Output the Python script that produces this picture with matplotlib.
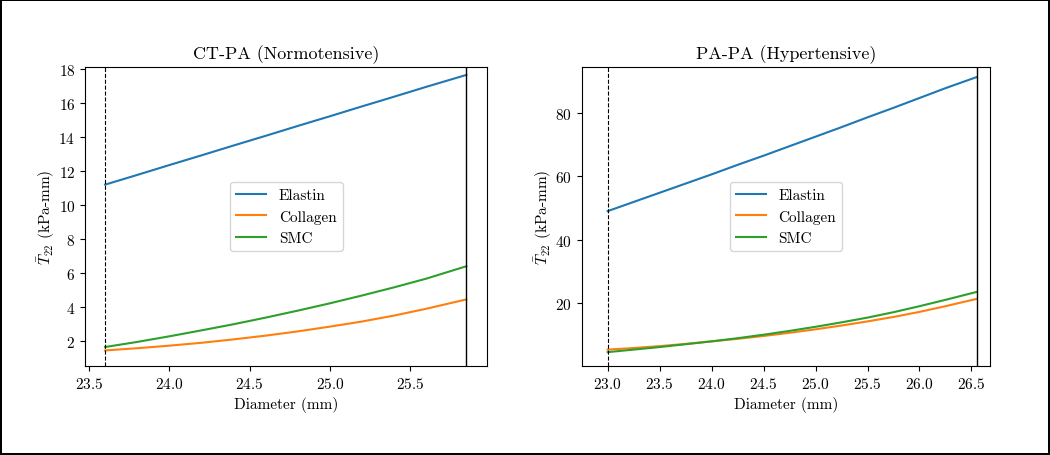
import numpy as np
import matplotlib
matplotlib.use("Agg")
import matplotlib.pyplot as plt

plt.rcParams['font.family'] = ['cmr10', 'DejaVu Serif']
plt.rcParams['mathtext.fontset'] = 'cm'
plt.rcParams['axes.formatter.use_mathtext'] = True

# CT-PA (normotensive)
d_norm = [23.6, 23.8, 24.0, 24.2, 24.4, 24.6, 24.8, 25.0, 25.2, 25.4, 25.6, 25.85]
elastin_norm = [11.2, 11.77, 12.35, 12.92, 13.5, 14.07, 14.65, 15.22, 15.8, 16.37, 16.95, 17.65]
collagen_norm = [1.45, 1.58, 1.73, 1.9, 2.1, 2.32, 2.57, 2.85, 3.15, 3.5, 3.9, 4.45]
smc_norm = [1.65, 1.95, 2.28, 2.63, 2.99, 3.38, 3.79, 4.22, 4.68, 5.16, 5.67, 6.4]

# PA-PA (hypertensive)
d_hyp = [23.0, 23.25, 23.5, 23.75, 24.0, 24.25, 24.5, 24.75, 25.0, 25.25,
         25.5, 25.75, 26.0, 26.25, 26.55]
elastin_hyp = [49.0, 51.9, 54.8, 57.7, 60.6, 63.6, 66.5, 69.5, 72.5, 75.5,
               78.6, 81.6, 84.7, 87.8, 91.3]
collagen_hyp = [5.3, 5.8, 6.4, 7.1, 7.9, 8.7, 9.6, 10.6, 11.7, 12.9,
                14.2, 15.6, 17.2, 19.0, 21.3]
smc_hyp = [4.5, 5.3, 6.1, 7.0, 7.9, 8.9, 10.0, 11.2, 12.5, 13.9,
           15.4, 17.1, 19.0, 21.0, 23.5]

panels = [
    ("CT-PA (Normotensive)", d_norm, elastin_norm, collagen_norm, smc_norm,
     (23.475, 25.98), (0.53, 18.12)),
    ("PA-PA (Hypertensive)", d_hyp, elastin_hyp, collagen_hyp, smc_hyp,
     (22.75, 26.68), (0.1, 94.5)),
]

fig = plt.figure(figsize=(10.5, 4.56), dpi=100)
fig.patch.set_edgecolor('black')
fig.patch.set_linewidth(1.5)

positions = [[0.081, 0.195, 0.383, 0.656], [0.554, 0.195, 0.389, 0.656]]

for pos, (title, d, el, co, sm, xl, yl) in zip(positions, panels):
    ax = fig.add_axes(pos)
    ax.plot(d, el, color='#1f77b4', lw=1.5, label='Elastin')
    ax.plot(d, co, color='#ff7f0e', lw=1.5, label='Collagen')
    ax.plot(d, sm, color='#2ca02c', lw=1.5, label='SMC')
    ax.axvline(d[0], color='black', ls='--', lw=0.8)
    ax.axvline(d[-1], color='black', lw=1.0)
    ax.set_xlim(*xl)
    ax.set_ylim(*yl)
    ax.set_title(title, fontsize=13)
    ax.set_xlabel('Diameter (mm)', fontsize=11)
    ax.set_ylabel(r'$\bar{T}_{22}$ (kPa-mm)', fontsize=11, labelpad=1)
    ax.tick_params(labelsize=11)
    ax.legend(loc='center', fontsize=11)

fig.savefig('out.png', dpi=100, edgecolor=fig.get_edgecolor())
